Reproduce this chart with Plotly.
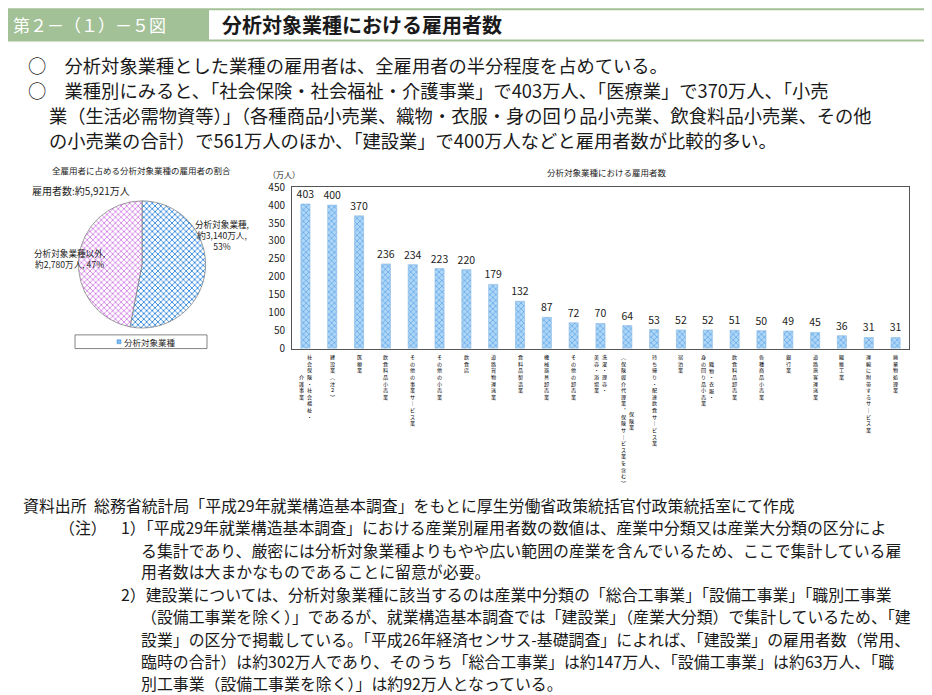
import plotly.graph_objects as go

# The page adds an 8px body margin, so the figure is 8px smaller and coordinates are offset.
OFF = 8
W, H = 932 - OFF, 695 - OFF


def X(px):
    return (px - OFF) / W


def Y(py):
    return 1 - (py - OFF) / H


# ---------------- data ----------------
categories = [
    "社会保険・社会福祉・介護事業", "建設業（注２）", "医療業", "飲食料品小売業",
    "その他の事業サービス業", "その他の小売業", "飲食店", "道路貨物運送業",
    "食料品製造業", "機械器具卸売業", "その他の卸売業", "洗濯・理容・美容・浴場業",
    "保険業（保険媒介代理業，保険サービス業を含む）", "持ち帰り・配達飲食サービス業",
    "宿泊業", "織物・衣服・身の回り品小売業", "飲食料品卸売業", "各種商品小売業",
    "銀行業", "道路旅客運送業", "繊維工業", "運輸に附帯するサービス業", "廃棄物処理業",
]
label_columns = [
    ["社会保険・社会福祉・", "介護事業"], ["建設業（注２）"], ["医療業"], ["飲食料品小売業"],
    ["その他の事業サービス業"], ["その他の小売業"], ["飲食店"], ["道路貨物運送業"],
    ["食料品製造業"], ["機械器具卸売業"], ["その他の卸売業"], ["洗濯・理容・", "美容・浴場業"],
    ["保険業", "（保険媒介代理業，保険サービス業を含む）"], ["持ち帰り・配達飲食サービス業"],
    ["宿泊業"], ["織物・衣服・", "身の回り品小売業"], ["飲食料品卸売業"], ["各種商品小売業"],
    ["銀行業"], ["道路旅客運送業"], ["繊維工業"], ["運輸に附帯するサービス業"], ["廃棄物処理業"],
]
values = [403, 400, 370, 236, 234, 223, 220, 179, 132, 87, 72, 70, 64,
          53, 52, 52, 51, 50, 49, 45, 36, 31, 31]
y_ticks = [0, 50, 100, 150, 200, 250, 300, 350, 400, 450]

pie_labels = ["分析対象業種", "分析対象業種以外"]
pie_values = [3140, 2780]
pie_shares = [53, 47]
total_employed = 5921

header_no = "第２－（１）－５図"
header_title = "分析対象業種における雇用者数"
bullets = [
    ("○　分析対象業種とした業種の雇用者は、全雇用者の半分程度を占めている。", 27),
    ("○　業種別にみると、「社会保険・社会福祉・介護事業」で403万人、「医療業」で370万人、「小売", 27),
    ("業（生活必需物資等）」（各種商品小売業、織物・衣服・身の回り品小売業、飲食料品小売業、その他", 48),
    ("の小売業の合計）で561万人のほか、「建設業」で400万人などと雇用者数が比較的多い。", 48),
]
notes = [
    ("資料出所", 22), ("総務省統計局「平成29年就業構造基本調査」をもとに厚生労働省政策統括官付政策統括室にて作成", 93),
    ("（注）", 58), ("1）「平成29年就業構造基本調査」における産業別雇用者数の数値は、産業中分類又は産業大分類の区分によ", 120),
    ("る集計であり、厳密には分析対象業種よりもやや広い範囲の産業を含んでいるため、ここで集計している雇", 140),
    ("用者数は大まかなものであることに留意が必要。", 140),
    ("2）建設業については、分析対象業種に該当するのは産業中分類の「総合工事業」「設備工事業」「職別工事業", 120),
    ("（設備工事業を除く）」であるが、就業構造基本調査では「建設業」（産業大分類）で集計しているため、「建", 140),
    ("設業」の区分で掲載している。「平成26年経済センサス-基礎調査」によれば、「建設業」の雇用者数（常用、", 140),
    ("臨時の合計）は約302万人であり、そのうち「総合工事業」は約147万人、「設備工事業」は約63万人、「職", 140),
    ("別工事業（設備工事業を除く）」は約92万人となっている。", 140),
]
note_rows = [508, 508, 531, 531, 554, 576, 599, 622, 645, 667.5, 690]

FONT = "Noto Sans CJK JP"
GREEN = "#a3c197"
INK = "#1a1a1a"

fig = go.Figure()

# ---------------- bar chart ----------------
fig.add_trace(go.Bar(
    x=categories, y=values, text=values, textposition="outside", cliponaxis=False,
    constraintext="none",
    textfont=dict(family=FONT, size=10.5, color="#222"),
    marker=dict(color="#aed6f7", line=dict(color="#8ab8e0", width=0.6),
                pattern=dict(shape="x", fgcolor="#2f86dc", size=4, solidity=0.4)),
    showlegend=False, hoverinfo="x+y",
))

# ---------------- pie chart ----------------
fig.add_trace(go.Pie(
    labels=pie_labels, values=pie_values, sort=False, direction="clockwise", rotation=0,
    textinfo="none", showlegend=False,
    domain=dict(x=[X(77), X(207)], y=[Y(327), Y(197)]),
    marker=dict(colors=["#b6dbf9", "#f6d6fa"],
                line=dict(color="#777", width=0.7),
                pattern=dict(shape=["x", "x"], fgcolor=["#2f86dc", "#d484e6"], size=4, solidity=0.4)),
))

annotations = []
shapes = []


def note(text, xpx, ypx, size, xanchor="left", color=INK, **kw):
    annotations.append(dict(text=text, x=X(xpx), y=Y(ypx), xref="paper", yref="paper",
                            xanchor=xanchor, yanchor="middle", showarrow=False, borderpad=0,
                            font=dict(family=FONT, size=size, color=color), **kw))


# header
shapes.append(dict(type="rect", xref="paper", yref="paper", x0=X(0), x1=X(932), y0=Y(34), y1=Y(0),
                   fillcolor=GREEN, line=dict(width=0), layer="below"))
shapes.append(dict(type="rect", xref="paper", yref="paper", x0=X(209), x1=X(928), y0=Y(32), y1=Y(2),
                   fillcolor="white", line=dict(width=0), layer="below"))
note(header_no, 12, 17, 17, color="white")
note("<b>" + header_title + "</b>", 221, 17, 20)

# bullets
for (txt, xpx), ypx in zip(bullets, [58, 83.5, 109.5, 135]):
    note(txt, xpx, ypx, 18.3)

# notes
for (txt, xpx), ypx in zip(notes, note_rows):
    note(txt, xpx, ypx, 15.9)

# pie texts
note("全雇用者に占める分析対象業種の雇用者の割合", 141, 165, 8.5, xanchor="center", color="#222")
note(f"雇用者数:約{total_employed:,}万人", 31, 186, 10, color="#222")
note(f"{pie_labels[0]},<br>約{pie_values[0]:,}万人,<br>{pie_shares[0]}%", 222, 232, 8.6,
     xanchor="center", color="#222", align="center")
note(f"{pie_labels[1]},<br>約{pie_values[1]:,}万人, {pie_shares[1]}%", 69, 256, 8.6,
     xanchor="center", color="#222", align="center")
# pie legend (manual box)
shapes.append(dict(type="rect", xref="paper", yref="paper", x0=X(75), x1=X(207), y0=Y(348), y1=Y(334),
                   fillcolor="white", line=dict(color="#666", width=0.8)))
shapes.append(dict(type="rect", xref="paper", yref="paper", x0=X(117), x1=X(121), y0=Y(343), y1=Y(339),
                   fillcolor="#7fbaf0", line=dict(color="#2f86dc", width=0.5)))
note(pie_labels[0], 123, 341, 8.5, color="#222")

# bar chart texts
note("分析対象業種における雇用者数", 607, 167, 8.5, xanchor="center", color="#222")
note("（万人）", 267, 170, 8, color="#222")

# vertical category labels
VMAP = {"（": "︵", "）": "︶", "ー": "｜", "，": "︐", "、": "︑"}
fs = 5.1
lh = 1.3 * fs
for cat, cols in zip(categories, label_columns):
    maxlen = max(len(c) for c in cols)
    n = len(cols)
    for i, col in enumerate(cols):
        txt = "<br>".join(VMAP.get(ch, ch) for ch in col)
        xshift = ((n - 1) / 2 - i) * 8
        annotations.append(dict(text=txt, x=cat, xref="x", y=Y(352), yref="paper", yanchor="top",
                                xanchor="center", showarrow=False, xshift=xshift, borderpad=0,
                                yshift=-(maxlen - len(col)) / 2 * lh,
                                font=dict(family=FONT, size=fs, color="#000")))

fig.update_layout(
    width=W, height=H, margin=dict(l=0, r=0, t=0, b=0),
    paper_bgcolor="white", plot_bgcolor="white",
    font=dict(family=FONT, color="#222"),
    bargap=0.66,
    xaxis=dict(domain=[X(292), X(909)], showticklabels=False, ticks="", showgrid=False,
               showline=True, mirror=True, linecolor="#555", linewidth=1, zeroline=False, fixedrange=True),
    yaxis=dict(domain=[Y(348), Y(183)], range=[0, 450], tickvals=y_ticks, showgrid=False,
               showline=True, mirror=True, linecolor="#555", linewidth=1, zeroline=False, ticks="",
               tickfont=dict(family=FONT, size=10, color="#222"), ticklabelstandoff=4),
    annotations=annotations, shapes=shapes,
)

fig.write_html("out.html")
